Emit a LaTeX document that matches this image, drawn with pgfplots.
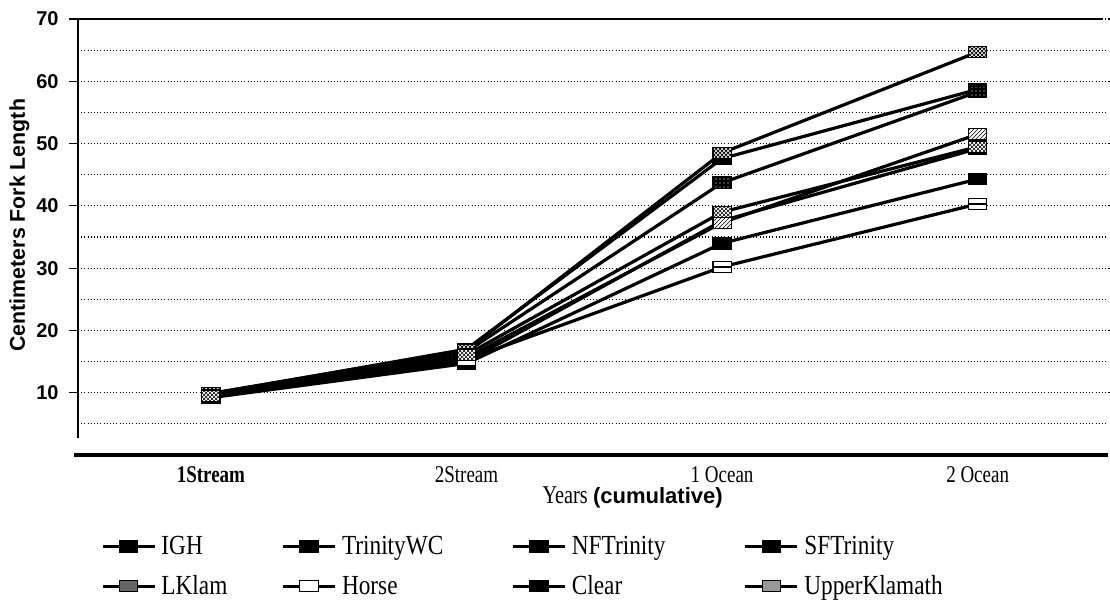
\documentclass[border=0pt]{standalone}
\usepackage{pgfplots}
\pgfplotsset{compat=1.18}
\usepackage{pgfplotstable}
\usetikzlibrary{patterns}
\usepackage{fontspec}
\setmainfont{Liberation Serif}
\setsansfont{Liberation Sans}

\pgfplotstableread{
x IGH TrinityWC NFTrinity SFTrinity LKlam Horse Clear UpperKlamath
0 9.8 9.5 9.3 9.6 9.9 9.4 9.2 9.5
1 17.0 15.6 15.0 16.6 16.8 15.3 14.7 16.1
2 47.6 37.3 37.6 43.7 48.5 30.2 34.0 39.0
3 58.7 51.5 49.2 58.3 64.7 40.3 44.3 49.5
}\fish

\pgfplotsset{
  fl/.style={line width=2.4pt, black, mark=square*, mark size=4.3pt,
    mark options={xscale=1.6, line width=0.9pt, draw=black, fill=#1, solid}},
  mk/.style={only marks, forget plot, mark=square*, mark size=4.3pt,
    mark options={xscale=1.6, line width=0.9pt, draw=black, fill=#1, solid}},
  pt/.style 2 args={only marks, forget plot, mark=square*, mark size=4.3pt,
    mark options={xscale=1.6, line width=0.9pt, draw=black, pattern=#1, pattern color=#2, solid}},
}

% tall, narrow text as in the scanned original
\newcommand{\tall}[1]{\scalebox{0.95}[1.2]{#1}}
\newcommand{\ltall}[1]{\scalebox{0.97}[1.15]{#1}}
\newcommand{\lb}[2]{\makebox[#1][l]{\ltall{#2}}}

\begin{document}
\begin{tikzpicture}
\useasboundingbox (-58.5pt,-111pt) rectangle (774pt,341.25pt);
\begin{axis}[
  scale only axis, width=772.5pt, height=327pt,
  xmin=-0.52, xmax=3.51, ymin=0, ymax=70,
  clip=false,
  axis line style={draw=none},
  xtick={0,1,2,3},
  xticklabels={\tall{\textbf{1Stream}}, \tall{2Stream}, \tall{1 Ocean}, \tall{2 Ocean}},
  x tick style={draw=none},
  xticklabel style={font=\fontsize{15}{17}\selectfont, yshift=1.5pt},
  ytick={10,20,...,70},
  minor ytick={5,15,...,65},
  tick align=outside,
  major tick length=7pt,
  minor tick length=0pt,
  y tick style={black, line width=0.8pt},
  yticklabel style={font=\sffamily\bfseries\fontsize{15}{17}\selectfont, xshift=-4pt},
  /pgf/number format/assume math mode=true,
  ymajorgrids, yminorgrids,
  major grid style={black, dotted, line width=0.8pt},
  minor grid style={black, dotted, line width=0.8pt},
  legend columns=4,
  legend style={draw=none, fill=none, at={(axis description cs:0,0)}, anchor=north west,
    xshift=14pt, yshift=-58pt, font=\fontsize{18}{20}\selectfont,
    nodes={inner sep=1pt},
    row sep=12pt, column sep=0pt,
    /tikz/every odd column/.append style={column sep=3pt}},
  legend cell align=left,
  legend image code/.code={\draw[mark repeat=2,mark phase=2,#1] plot coordinates {(0pt,0pt)(19.5pt,0pt)(39pt,0pt)};},
]
\addplot[fl=black] table[y=IGH] {\fish};
\addlegendentry{\lb{89pt}{IGH}}
\addplot[fl=black] table[y=TrinityWC] {\fish};
\addlegendentry{\lb{126pt}{TrinityWC}}
\addplot[fl=black] table[y=NFTrinity] {\fish};
\addlegendentry{\lb{128pt}{NFTrinity}}
\addplot[fl=black] table[y=SFTrinity] {\fish};
\addlegendentry{\ltall{SFTrinity}}
\addplot[fl=black!60] table[y=LKlam] {\fish};
\addlegendentry{\lb{89pt}{LKlam}}
\addplot[fl=white] table[y=Horse] {\fish};
\addlegendentry{\lb{126pt}{Horse}}
\addplot[fl=black] table[y=Clear] {\fish};
\addlegendentry{\lb{128pt}{Clear}}
\addplot[fl=black!40] table[y=UpperKlamath] {\fish};
\addlegendentry{\ltall{UpperKlamath}}

% markers on top of the lines
\addplot[mk=black] table[y=IGH] {\fish};
\addplot[mk=black] table[y=NFTrinity] {\fish};
\addplot[mk=black] table[y=Clear] {\fish};
\addplot[mk=white] table[y=TrinityWC] {\fish};
\addplot[pt={north east lines}{black}] table[y=TrinityWC] {\fish};
\addplot[mk=black] table[y=SFTrinity] {\fish};
\addplot[pt={dots}{white}] table[y=SFTrinity] {\fish};
\addplot[mk=black] table[y=LKlam] {\fish};
\addplot[pt={crosshatch}{white}] table[y=LKlam] {\fish};
\addplot[mk=white] table[y=Horse] {\fish};
\addplot[only marks, forget plot, mark=-, mark size=5pt, mark options={xscale=1.4, line width=1.2pt, black}] table[y=Horse] {\fish};
\addplot[mk=white] table[y=UpperKlamath] {\fish};
\addplot[pt={crosshatch}{black}] table[y=UpperKlamath] {\fish};

% frame lines
\draw[line width=2.2pt] (axis cs:-0.52,70) -- (axis cs:-0.52,2.7);
\draw[line width=2.2pt] (axis cs:-0.52,70) -- (axis cs:3.49,70);
\draw[line width=2.5pt] (axis cs:-0.535,0) -- (axis cs:3.51,0);

\node[rotate=90, font=\sffamily\bfseries\fontsize{16}{18}\selectfont] at ([xshift=-44pt]axis cs:-0.52,36.9) {Centimeters Fork Length};
\node[font=\fontsize{16}{18}\selectfont, anchor=base] at ([yshift=-36pt]axis cs:1.65,0) {\tall{Years} {\sffamily\bfseries\fontsize{16.5}{18}\selectfont (cumulative)}};
\end{axis}
\end{tikzpicture}
\end{document}
